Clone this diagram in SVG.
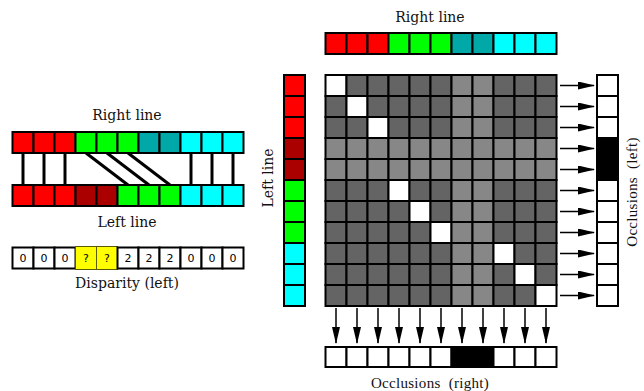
<svg xmlns="http://www.w3.org/2000/svg" width="644" height="391" viewBox="0 0 644 391">
<style>
.c{stroke:#000;stroke-width:2}
.R{fill:#ff0000}.D{fill:#aa0000}.G{fill:#00ff00}.T{fill:#00a8a8}.C{fill:#00ffff}
.d{fill:#646464}.l{fill:#878787}.w{fill:#fff}.k{fill:#000}
.lab{font-family:"DejaVu Serif",serif;font-size:14px;fill:#111;text-anchor:middle}
.occ{font-family:"Liberation Serif",serif;font-size:15px;fill:#111;text-anchor:middle;letter-spacing:0.3px;word-spacing:4px}
.num{font-family:"DejaVu Sans",sans-serif;font-size:11px;fill:#000;text-anchor:middle}
.ln{stroke:#000;stroke-width:3;fill:none}
.ar{stroke:#000;stroke-width:1.5;fill:none;marker-end:url(#ah)}
</style>
<defs>
<marker id="ah" markerUnits="userSpaceOnUse" markerWidth="17" markerHeight="8" refX="16" refY="4" orient="auto">
<path d="M0,0 L17,4 L0,8 z" fill="#000"/>
</marker>
</defs>

<g id="left-right-line">
<text class="lab" x="127" y="120">Right line</text>
<rect class="c R" x="12.5" y="132" width="21" height="21"/>
<rect class="c R" x="33.5" y="132" width="21" height="21"/>
<rect class="c R" x="54.5" y="132" width="21" height="21"/>
<rect class="c G" x="75.5" y="132" width="21" height="21"/>
<rect class="c G" x="96.5" y="132" width="21" height="21"/>
<rect class="c G" x="117.5" y="132" width="21" height="21"/>
<rect class="c T" x="138.5" y="132" width="21" height="21"/>
<rect class="c T" x="159.5" y="132" width="21" height="21"/>
<rect class="c C" x="180.5" y="132" width="21" height="21"/>
<rect class="c C" x="201.5" y="132" width="21" height="21"/>
<rect class="c C" x="222.5" y="132" width="21" height="21"/>
</g>

<g id="left-left-line">
<rect class="c R" x="12.5" y="185" width="21" height="21"/>
<rect class="c R" x="33.5" y="185" width="21" height="21"/>
<rect class="c R" x="54.5" y="185" width="21" height="21"/>
<rect class="c D" x="75.5" y="185" width="21" height="21"/>
<rect class="c D" x="96.5" y="185" width="21" height="21"/>
<rect class="c G" x="117.5" y="185" width="21" height="21"/>
<rect class="c G" x="138.5" y="185" width="21" height="21"/>
<rect class="c G" x="159.5" y="185" width="21" height="21"/>
<rect class="c C" x="180.5" y="185" width="21" height="21"/>
<rect class="c C" x="201.5" y="185" width="21" height="21"/>
<rect class="c C" x="222.5" y="185" width="21" height="21"/>
<text class="lab" x="127" y="227">Left line</text>
</g>

<g id="disparity">
<rect class="c w" x="12.5" y="247.5" width="21" height="21"/>
<rect class="c w" x="33.5" y="247.5" width="21" height="21"/>
<rect class="c w" x="54.5" y="247.5" width="21" height="21"/>
<rect x="75.5" y="246.5" width="21" height="23" fill="#ffff00" stroke="#5a5a00" stroke-width="1"/>
<rect x="96.5" y="246.5" width="21" height="23" fill="#ffff00" stroke="#5a5a00" stroke-width="1"/>
<rect class="c w" x="117.5" y="247.5" width="21" height="21"/>
<rect class="c w" x="138.5" y="247.5" width="21" height="21"/>
<rect class="c w" x="159.5" y="247.5" width="21" height="21"/>
<rect class="c w" x="180.5" y="247.5" width="21" height="21"/>
<rect class="c w" x="201.5" y="247.5" width="21" height="21"/>
<rect class="c w" x="222.5" y="247.5" width="21" height="21"/>
<text class="num" x="23" y="262">0</text>
<text class="num" x="44" y="262">0</text>
<text class="num" x="65" y="262">0</text>
<text class="num" x="86" y="262">?</text>
<text class="num" x="107" y="262">?</text>
<text class="num" x="128" y="262">2</text>
<text class="num" x="149" y="262">2</text>
<text class="num" x="170" y="262">2</text>
<text class="num" x="191" y="262">0</text>
<text class="num" x="212" y="262">0</text>
<text class="num" x="233" y="262">0</text>
<text class="lab" x="127" y="288">Disparity (left)</text>
</g>

<g id="top-right-line">
<text class="lab" x="430" y="22">Right line</text>
<rect class="c R" x="325.5" y="33" width="21" height="21"/>
<rect class="c R" x="346.5" y="33" width="21" height="21"/>
<rect class="c R" x="367.5" y="33" width="21" height="21"/>
<rect class="c G" x="388.5" y="33" width="21" height="21"/>
<rect class="c G" x="409.5" y="33" width="21" height="21"/>
<rect class="c G" x="430.5" y="33" width="21" height="21"/>
<rect class="c T" x="451.5" y="33" width="21" height="21"/>
<rect class="c T" x="472.5" y="33" width="21" height="21"/>
<rect class="c C" x="493.5" y="33" width="21" height="21"/>
<rect class="c C" x="514.5" y="33" width="21" height="21"/>
<rect class="c C" x="535.5" y="33" width="21" height="21"/>
</g>

<g id="vertical-left-line">
<text class="lab" transform="translate(273,178) rotate(-90)" x="0" y="0">Left line</text>
<rect class="c R" x="284" y="75" width="21" height="21"/>
<rect class="c R" x="284" y="96" width="21" height="21"/>
<rect class="c R" x="284" y="117" width="21" height="21"/>
<rect class="c D" x="284" y="138" width="21" height="21"/>
<rect class="c D" x="284" y="159" width="21" height="21"/>
<rect class="c G" x="284" y="180" width="21" height="21"/>
<rect class="c G" x="284" y="201" width="21" height="21"/>
<rect class="c G" x="284" y="222" width="21" height="21"/>
<rect class="c C" x="284" y="243" width="21" height="21"/>
<rect class="c C" x="284" y="264" width="21" height="21"/>
<rect class="c C" x="284" y="285" width="21" height="21"/>
</g>

<g id="matrix">
<g transform="translate(0,75)">
<rect class="c w" x="325.5" width="21" height="21"/><rect class="c d" x="346.5" width="21" height="21"/><rect class="c d" x="367.5" width="21" height="21"/><rect class="c d" x="388.5" width="21" height="21"/><rect class="c d" x="409.5" width="21" height="21"/><rect class="c d" x="430.5" width="21" height="21"/><rect class="c l" x="451.5" width="21" height="21"/><rect class="c l" x="472.5" width="21" height="21"/><rect class="c d" x="493.5" width="21" height="21"/><rect class="c d" x="514.5" width="21" height="21"/><rect class="c d" x="535.5" width="21" height="21"/>
</g>
<g transform="translate(0,96)">
<rect class="c d" x="325.5" width="21" height="21"/><rect class="c w" x="346.5" width="21" height="21"/><rect class="c d" x="367.5" width="21" height="21"/><rect class="c d" x="388.5" width="21" height="21"/><rect class="c d" x="409.5" width="21" height="21"/><rect class="c d" x="430.5" width="21" height="21"/><rect class="c l" x="451.5" width="21" height="21"/><rect class="c l" x="472.5" width="21" height="21"/><rect class="c d" x="493.5" width="21" height="21"/><rect class="c d" x="514.5" width="21" height="21"/><rect class="c d" x="535.5" width="21" height="21"/>
</g>
<g transform="translate(0,117)">
<rect class="c d" x="325.5" width="21" height="21"/><rect class="c d" x="346.5" width="21" height="21"/><rect class="c w" x="367.5" width="21" height="21"/><rect class="c d" x="388.5" width="21" height="21"/><rect class="c d" x="409.5" width="21" height="21"/><rect class="c d" x="430.5" width="21" height="21"/><rect class="c l" x="451.5" width="21" height="21"/><rect class="c l" x="472.5" width="21" height="21"/><rect class="c d" x="493.5" width="21" height="21"/><rect class="c d" x="514.5" width="21" height="21"/><rect class="c d" x="535.5" width="21" height="21"/>
</g>
<g transform="translate(0,138)">
<rect class="c l" x="325.5" width="21" height="21"/><rect class="c l" x="346.5" width="21" height="21"/><rect class="c l" x="367.5" width="21" height="21"/><rect class="c l" x="388.5" width="21" height="21"/><rect class="c l" x="409.5" width="21" height="21"/><rect class="c l" x="430.5" width="21" height="21"/><rect class="c l" x="451.5" width="21" height="21"/><rect class="c l" x="472.5" width="21" height="21"/><rect class="c l" x="493.5" width="21" height="21"/><rect class="c l" x="514.5" width="21" height="21"/><rect class="c l" x="535.5" width="21" height="21"/>
</g>
<g transform="translate(0,159)">
<rect class="c l" x="325.5" width="21" height="21"/><rect class="c l" x="346.5" width="21" height="21"/><rect class="c l" x="367.5" width="21" height="21"/><rect class="c l" x="388.5" width="21" height="21"/><rect class="c l" x="409.5" width="21" height="21"/><rect class="c l" x="430.5" width="21" height="21"/><rect class="c l" x="451.5" width="21" height="21"/><rect class="c l" x="472.5" width="21" height="21"/><rect class="c l" x="493.5" width="21" height="21"/><rect class="c l" x="514.5" width="21" height="21"/><rect class="c l" x="535.5" width="21" height="21"/>
</g>
<g transform="translate(0,180)">
<rect class="c d" x="325.5" width="21" height="21"/><rect class="c d" x="346.5" width="21" height="21"/><rect class="c d" x="367.5" width="21" height="21"/><rect class="c w" x="388.5" width="21" height="21"/><rect class="c d" x="409.5" width="21" height="21"/><rect class="c d" x="430.5" width="21" height="21"/><rect class="c l" x="451.5" width="21" height="21"/><rect class="c l" x="472.5" width="21" height="21"/><rect class="c d" x="493.5" width="21" height="21"/><rect class="c d" x="514.5" width="21" height="21"/><rect class="c d" x="535.5" width="21" height="21"/>
</g>
<g transform="translate(0,201)">
<rect class="c d" x="325.5" width="21" height="21"/><rect class="c d" x="346.5" width="21" height="21"/><rect class="c d" x="367.5" width="21" height="21"/><rect class="c d" x="388.5" width="21" height="21"/><rect class="c w" x="409.5" width="21" height="21"/><rect class="c d" x="430.5" width="21" height="21"/><rect class="c l" x="451.5" width="21" height="21"/><rect class="c l" x="472.5" width="21" height="21"/><rect class="c d" x="493.5" width="21" height="21"/><rect class="c d" x="514.5" width="21" height="21"/><rect class="c d" x="535.5" width="21" height="21"/>
</g>
<g transform="translate(0,222)">
<rect class="c d" x="325.5" width="21" height="21"/><rect class="c d" x="346.5" width="21" height="21"/><rect class="c d" x="367.5" width="21" height="21"/><rect class="c d" x="388.5" width="21" height="21"/><rect class="c d" x="409.5" width="21" height="21"/><rect class="c w" x="430.5" width="21" height="21"/><rect class="c l" x="451.5" width="21" height="21"/><rect class="c l" x="472.5" width="21" height="21"/><rect class="c d" x="493.5" width="21" height="21"/><rect class="c d" x="514.5" width="21" height="21"/><rect class="c d" x="535.5" width="21" height="21"/>
</g>
<g transform="translate(0,243)">
<rect class="c d" x="325.5" width="21" height="21"/><rect class="c d" x="346.5" width="21" height="21"/><rect class="c d" x="367.5" width="21" height="21"/><rect class="c d" x="388.5" width="21" height="21"/><rect class="c d" x="409.5" width="21" height="21"/><rect class="c d" x="430.5" width="21" height="21"/><rect class="c l" x="451.5" width="21" height="21"/><rect class="c l" x="472.5" width="21" height="21"/><rect class="c w" x="493.5" width="21" height="21"/><rect class="c d" x="514.5" width="21" height="21"/><rect class="c d" x="535.5" width="21" height="21"/>
</g>
<g transform="translate(0,264)">
<rect class="c d" x="325.5" width="21" height="21"/><rect class="c d" x="346.5" width="21" height="21"/><rect class="c d" x="367.5" width="21" height="21"/><rect class="c d" x="388.5" width="21" height="21"/><rect class="c d" x="409.5" width="21" height="21"/><rect class="c d" x="430.5" width="21" height="21"/><rect class="c l" x="451.5" width="21" height="21"/><rect class="c l" x="472.5" width="21" height="21"/><rect class="c d" x="493.5" width="21" height="21"/><rect class="c w" x="514.5" width="21" height="21"/><rect class="c d" x="535.5" width="21" height="21"/>
</g>
<g transform="translate(0,285)">
<rect class="c d" x="325.5" width="21" height="21"/><rect class="c d" x="346.5" width="21" height="21"/><rect class="c d" x="367.5" width="21" height="21"/><rect class="c d" x="388.5" width="21" height="21"/><rect class="c d" x="409.5" width="21" height="21"/><rect class="c d" x="430.5" width="21" height="21"/><rect class="c l" x="451.5" width="21" height="21"/><rect class="c l" x="472.5" width="21" height="21"/><rect class="c d" x="493.5" width="21" height="21"/><rect class="c d" x="514.5" width="21" height="21"/><rect class="c w" x="535.5" width="21" height="21"/>
</g>
</g>

<g id="occlusions-left">
<rect class="c w" x="597" y="75" width="21" height="21"/>
<rect class="c w" x="597" y="96" width="21" height="21"/>
<rect class="c w" x="597" y="117" width="21" height="21"/>
<rect class="c k" x="597" y="138" width="21" height="21"/>
<rect class="c k" x="597" y="159" width="21" height="21"/>
<rect class="c w" x="597" y="180" width="21" height="21"/>
<rect class="c w" x="597" y="201" width="21" height="21"/>
<rect class="c w" x="597" y="222" width="21" height="21"/>
<rect class="c w" x="597" y="243" width="21" height="21"/>
<rect class="c w" x="597" y="264" width="21" height="21"/>
<rect class="c w" x="597" y="285" width="21" height="21"/>
<text class="occ" transform="translate(637,192) rotate(-90)" x="0" y="0">Occlusions (left)</text>
</g>

<g id="occlusions-right">
<rect class="c w" x="325.5" y="347" width="21" height="20"/>
<rect class="c w" x="346.5" y="347" width="21" height="20"/>
<rect class="c w" x="367.5" y="347" width="21" height="20"/>
<rect class="c w" x="388.5" y="347" width="21" height="20"/>
<rect class="c w" x="409.5" y="347" width="21" height="20"/>
<rect class="c w" x="430.5" y="347" width="21" height="20"/>
<rect class="c k" x="451.5" y="347" width="21" height="20"/>
<rect class="c k" x="472.5" y="347" width="21" height="20"/>
<rect class="c w" x="493.5" y="347" width="21" height="20"/>
<rect class="c w" x="514.5" y="347" width="21" height="20"/>
<rect class="c w" x="535.5" y="347" width="21" height="20"/>
<text class="occ" x="430" y="387.5">Occlusions (right)</text>
</g>

<g id="connectors">
<line class="ln" x1="23" y1="153" x2="23" y2="185"/>
<line class="ln" x1="44" y1="153" x2="44" y2="185"/>
<line class="ln" x1="65" y1="153" x2="65" y2="185"/>
<line class="ln" x1="86" y1="153" x2="128" y2="185"/>
<line class="ln" x1="107" y1="153" x2="149" y2="185"/>
<line class="ln" x1="128" y1="153" x2="170" y2="185"/>
<line class="ln" x1="191" y1="153" x2="191" y2="185"/>
<line class="ln" x1="212" y1="153" x2="212" y2="185"/>
<line class="ln" x1="233" y1="153" x2="233" y2="185"/>

<line class="ar" x1="560" y1="85.5" x2="594" y2="85.5"/>
<line class="ar" x1="560" y1="106.5" x2="594" y2="106.5"/>
<line class="ar" x1="560" y1="127.5" x2="594" y2="127.5"/>
<line class="ar" x1="560" y1="148.5" x2="594" y2="148.5"/>
<line class="ar" x1="560" y1="169.5" x2="594" y2="169.5"/>
<line class="ar" x1="560" y1="190.5" x2="594" y2="190.5"/>
<line class="ar" x1="560" y1="211.5" x2="594" y2="211.5"/>
<line class="ar" x1="560" y1="232.5" x2="594" y2="232.5"/>
<line class="ar" x1="560" y1="253.5" x2="594" y2="253.5"/>
<line class="ar" x1="560" y1="274.5" x2="594" y2="274.5"/>
<line class="ar" x1="560" y1="295.5" x2="594" y2="295.5"/>

<line class="ar" x1="336" y1="308" x2="336" y2="343"/>
<line class="ar" x1="357" y1="308" x2="357" y2="343"/>
<line class="ar" x1="378" y1="308" x2="378" y2="343"/>
<line class="ar" x1="399" y1="308" x2="399" y2="343"/>
<line class="ar" x1="420" y1="308" x2="420" y2="343"/>
<line class="ar" x1="441" y1="308" x2="441" y2="343"/>
<line class="ar" x1="462" y1="308" x2="462" y2="343"/>
<line class="ar" x1="483" y1="308" x2="483" y2="343"/>
<line class="ar" x1="504" y1="308" x2="504" y2="343"/>
<line class="ar" x1="525" y1="308" x2="525" y2="343"/>
<line class="ar" x1="546" y1="308" x2="546" y2="343"/>
</g>
</svg>
